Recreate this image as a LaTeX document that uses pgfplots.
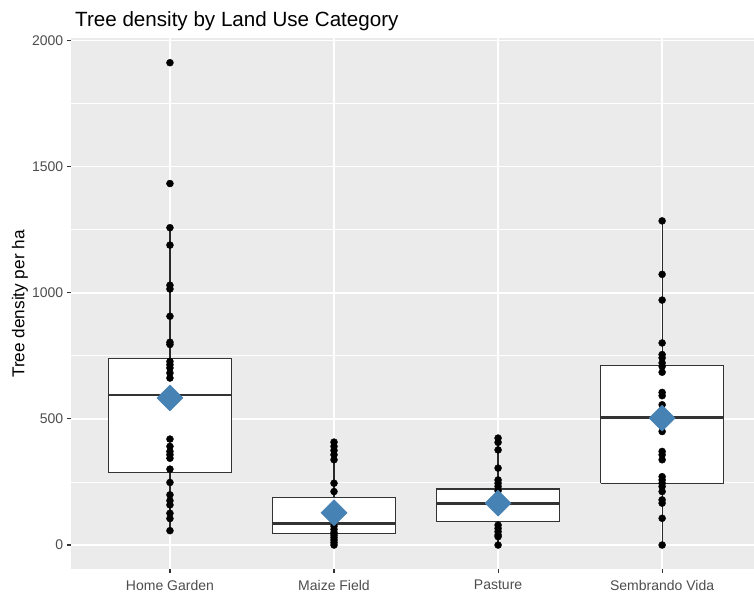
\documentclass[border=0pt]{standalone}
\usepackage{fontspec}
\setmainfont{Liberation Sans}
\usepackage{pgfplots}
\pgfplotsset{compat=1.18}
\definecolor{panel}{HTML}{EBEBEB}
\definecolor{g30}{HTML}{4D4D4D}
\definecolor{g20}{HTML}{333333}
\definecolor{steel}{HTML}{4682B4}
\pgfplotsset{
  boxst/.style={draw=g20, fill=white, line width=1.3pt},
  medst/.style={g20, line width=2.6pt},
  whst/.style={g20!80!black, line width=1.2pt},
}
\begin{document}
\begin{tikzpicture}
\useasboundingbox (0,0) rectangle (754pt,597pt);
\begin{axis}[
  at={(70.7pt,28pt)}, anchor=south west,
  scale only axis, width=683.3pt, height=531pt,
  xmin=0.395, xmax=4.56, ymin=-95, ymax=2010,
  axis background/.style={fill=panel},
  axis line style={draw=none},
  xtick={1,2,3,4},
  xticklabels={Home Garden, Maize Field, Pasture, Sembrando Vida},
  ytick={0,500,1000,1500,2000},
  minor ytick={250,750,1250,1750},
  grid=both,
  major grid style={white, line width=1.6pt},
  minor grid style={white, line width=0.8pt},
  xtick pos=left, ytick pos=left,
  tick align=outside,
  major tick length=4pt,
  minor tick style={draw=none},
  major tick style={g20, line width=1.1pt},
  ticklabel style={font=\fontsize{14}{16}\selectfont, text=g30},
  xticklabel style={yshift=-3.5pt},
  /pgf/number format/assume math mode=true,
  /pgf/number format/1000 sep={},
  clip=false,
]
% whiskers
\addplot[whst] coordinates {(1,57) (1,287)};
\addplot[whst] coordinates {(1,739) (1,1258)};
\addplot[whst] coordinates {(2,0) (2,45)};
\addplot[whst] coordinates {(2,189) (2,408)};
\addplot[whst] coordinates {(3,0) (3,93)};
\addplot[whst] coordinates {(3,222) (3,424)};
\addplot[whst] coordinates {(4,0) (4,245)};
\addplot[whst] coordinates {(4,712) (4,1285)};
% boxes
\addplot[boxst] coordinates {(0.625,287) (1.375,287) (1.375,739) (0.625,739) (0.625,287)};
\addplot[boxst] coordinates {(1.625,45) (2.375,45) (2.375,189) (1.625,189) (1.625,45)};
\addplot[boxst] coordinates {(2.625,93) (3.375,93) (3.375,222) (2.625,222) (2.625,93)};
\addplot[boxst] coordinates {(3.625,245) (4.375,245) (4.375,712) (3.625,712) (3.625,245)};
% medians
\addplot[medst] coordinates {(0.625,595) (1.375,595)};
\addplot[medst] coordinates {(1.625,85) (2.375,85)};
\addplot[medst] coordinates {(2.625,164) (3.375,164)};
\addplot[medst] coordinates {(3.625,506) (4.375,506)};
% points
\addplot[only marks, mark=*, mark size=3.5pt, mark options={fill=black, draw=black}] table {
x y
1 1912
1 1433
1 1258
1 1189
1 1030
1 1015
1 907
1 804
1 795
1 728
1 715
1 702
1 682
1 662
1 420
1 391
1 371
1 358
1 344
1 301
1 248
1 199
1 176
1 159
1 126
1 105
1 57
2 408
2 391
2 375
2 358
2 338
2 245
2 212
2 75
2 62
2 50
2 40
2 30
2 20
2 10
2 0
3 424
3 407
3 377
3 305
3 258
3 245
3 232
3 215
3 79
3 66
3 53
3 40
3 33
3 0
4 1285
4 1073
4 971
4 801
4 755
4 742
4 722
4 708
4 685
4 605
4 592
4 556
4 450
4 371
4 358
4 338
4 271
4 258
4 245
4 232
4 212
4 179
4 166
4 106
4 0
};
% means
\addplot[only marks, mark=square*, mark size=9.2pt, mark options={rotate=45, fill=steel, draw=steel}] coordinates {(1,583) (2,128) (3,166) (4,503)};
\end{axis}
\node[anchor=base west, font=\fontsize{20.6}{24}\selectfont] at (71.7pt,570.3pt) {Tree density by Land Use Category};
\node[rotate=90, font=\fontsize{17.2}{20}\selectfont] at (20pt,293pt) {Tree density per ha};
\end{tikzpicture}
\end{document}
